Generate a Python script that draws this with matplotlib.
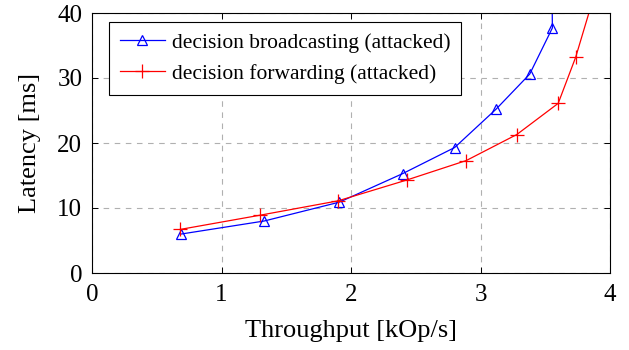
import matplotlib
matplotlib.use("Agg")
import matplotlib.pyplot as plt

plt.rcParams['font.family'] = ['Liberation Serif', 'DejaVu Serif']

# decision broadcasting (attacked)
bc_x = [0.69, 1.33, 1.91, 2.40, 2.80, 3.12, 3.38, 3.555, 3.545]
bc_y = [6.0, 8.0, 10.9, 15.3, 19.3, 25.2, 30.6, 37.7, 60.0]

# decision forwarding (attacked)
fw_x = [0.68, 1.30, 1.90, 2.43, 2.89, 3.28, 3.60, 3.735, 3.90]
fw_y = [6.7, 8.9, 11.1, 14.3, 17.3, 21.3, 26.1, 33.2, 44.2]

xticks = [0, 1, 2, 3, 4]
yticks = [0, 10, 20, 30, 40]

fig = plt.figure(figsize=(6.29, 3.5), dpi=100)
ax = fig.add_axes([92/629, 1-273/350, (610-92)/629, (273-13)/350])

ax.plot(bc_x, bc_y, color='blue', lw=0.9, marker='^', markersize=7.5,
        markerfacecolor='none', markeredgecolor='blue', markeredgewidth=0.9,
        label='decision broadcasting (attacked)')
ax.plot(fw_x, fw_y, color='red', lw=0.9, marker='+', markersize=10,
        markeredgewidth=0.9, label='decision forwarding (attacked)')

ax.set_xlim(0, 4)
ax.set_ylim(0, 40)
ax.set_xticks(xticks)
ax.set_yticks(yticks)
ax.tick_params(direction='in', top=True, right=True, labelsize=18, length=4, width=0.7)
ax.tick_params(axis='y', pad=7)
ax.tick_params(axis='x', pad=8)
ax.grid(True, color='#b0b0b0', linestyle=(0, (5, 5)), linewidth=0.8)
ax.set_axisbelow(True)
for s in ax.spines.values():
    s.set_linewidth(0.8)

ax.set_xlabel('Throughput [kOp/s]', fontsize=19, labelpad=10)
ax.set_ylabel('Latency [ms]', fontsize=19, labelpad=12)

leg = ax.legend(loc='upper left', bbox_to_anchor=(0.033, 0.965), borderaxespad=0,
                fontsize=15.5, frameon=True, fancybox=False, edgecolor='black',
                framealpha=1, handlelength=2.1, borderpad=0.5, labelspacing=0.5,
                handletextpad=0.3)
leg.get_frame().set_linewidth(0.8)

fig.savefig('out.png', dpi=100)
